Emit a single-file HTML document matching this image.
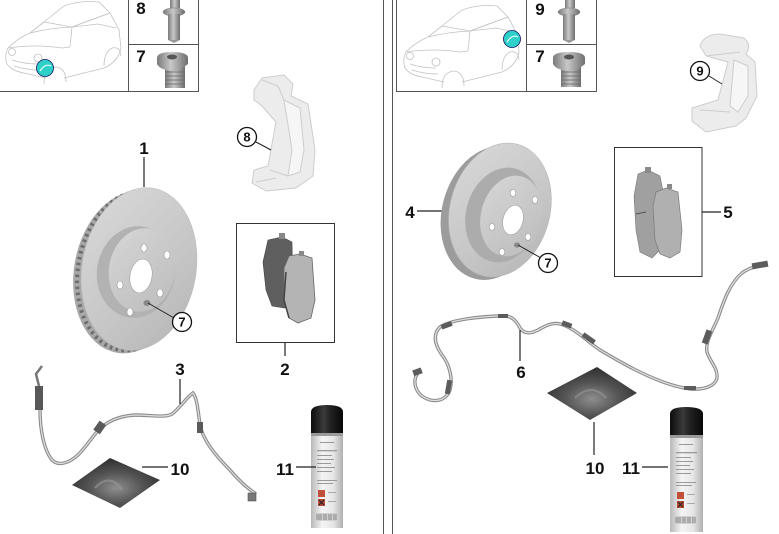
<!DOCTYPE html>
<html>
<head>
<meta charset="utf-8">
<style>
html,body{margin:0;padding:0;background:#fff;}
svg{display:block;}
text{font-family:"Liberation Sans",Arial,sans-serif;font-weight:bold;fill:#111;}
</style>
</head>
<body>
<svg width="779" height="534" viewBox="0 0 779 534" xmlns="http://www.w3.org/2000/svg">
<defs>
  <linearGradient id="face1" x1="0" y1="0" x2="1" y2="1">
    <stop offset="0" stop-color="#d9d9d9"/>
    <stop offset="0.6" stop-color="#c6c6c6"/>
    <stop offset="1" stop-color="#b4b4b4"/>
  </linearGradient>
  <linearGradient id="hub1" x1="0" y1="0" x2="1" y2="1">
    <stop offset="0" stop-color="#d6d6d6"/>
    <stop offset="1" stop-color="#bcbcbc"/>
  </linearGradient>
  <linearGradient id="canbody" x1="0" y1="0" x2="1" y2="0">
    <stop offset="0" stop-color="#b8b8b8"/>
    <stop offset="0.35" stop-color="#f4f4f4"/>
    <stop offset="0.7" stop-color="#e6e6e6"/>
    <stop offset="1" stop-color="#b0b0b0"/>
  </linearGradient>
  <linearGradient id="cancap" x1="0" y1="0" x2="1" y2="0">
    <stop offset="0" stop-color="#0c0c0c"/>
    <stop offset="0.4" stop-color="#3a3a3a"/>
    <stop offset="0.6" stop-color="#222"/>
    <stop offset="1" stop-color="#080808"/>
  </linearGradient>
  <radialGradient id="sachet" cx="0.5" cy="0.6" r="0.6">
    <stop offset="0" stop-color="#8e8e8e"/>
    <stop offset="0.5" stop-color="#555"/>
    <stop offset="1" stop-color="#2e2e2e"/>
  </radialGradient>
  <linearGradient id="bolt" x1="0" y1="0" x2="1" y2="0">
    <stop offset="0" stop-color="#7a7a7a"/>
    <stop offset="0.45" stop-color="#c8c8c8"/>
    <stop offset="1" stop-color="#6e6e6e"/>
  </linearGradient>
  <g id="car" fill="none" stroke="#c2c2c2" stroke-width="0.8">
    <path d="M44,22 L64,6 Q80,0 99,2 L110,13 L72,27 Z"/>
    <path d="M30,33 L44,22 M72,27 L88,21 L110,13 L119,30 L121,48 Q118,62 104,68 L64,78"/>
    <path d="M30,33 Q50,28 72,27 L70,47 M72,27 L98,24 L116,28"/>
    <path d="M8,48 Q18,38 30,33 M8,48 Q4,56 7,64 Q12,71 24,73 L46,78"/>
    <path d="M8,48 Q35,44 62,48 L70,47"/>
    <path d="M12,60 Q24,64 38,64 M14,66 Q26,70 40,70"/>
    <circle cx="12" cy="52" r="3.5"/>
    <circle cx="38" cy="58" r="4"/>
    <path d="M44,84 Q44,68 56,67 Q66,68 66,82"/>
    <path d="M104,66 Q104,52 112,48 Q120,46 121,56"/>
  </g>
</defs>
<rect width="779" height="534" fill="#fff"/>

<!-- panel borders -->
<line x1="383.5" y1="0" x2="383.5" y2="534" stroke="#555" stroke-width="1"/>
<line x1="392.5" y1="0" x2="392.5" y2="534" stroke="#555" stroke-width="1"/>

<!-- LEFT INSET -->
<use href="#car"/>
<circle cx="45" cy="68" r="8.5" fill="#2fd0c8" stroke="#116" stroke-width="0.8"/>
<path d="M40,71 Q45,63 51,66" stroke="#e8fffd" stroke-width="1.2" fill="none"/>
<path d="M0,91.5 H198.5 V0" fill="none" stroke="#555" stroke-width="1"/>
<line x1="128.5" y1="0" x2="128.5" y2="91.5" stroke="#555"/>
<line x1="128.5" y1="44.5" x2="198.5" y2="44.5" stroke="#555"/>
<text x="141" y="14" font-size="17" text-anchor="middle">8</text>
<text x="141" y="62" font-size="17" text-anchor="middle">7</text>
<!-- bolt 8 -->
<rect x="170" y="0" width="10" height="8" fill="url(#bolt)"/>
<ellipse cx="174" cy="12" rx="11" ry="4" fill="url(#bolt)" stroke="#777" stroke-width="0.5"/>
<rect x="168" y="14" width="12" height="26" fill="url(#bolt)"/>
<path d="M168,40 L174,43 L180,40" fill="#999"/>
<!-- bolt 7 -->
<rect x="165" y="66" width="20" height="22" fill="url(#bolt)"/>
<path d="M165,72 H185 M165,76 H185 M165,80 H185 M165,84 H185" stroke="#666" stroke-width="0.8"/>
<path d="M157,58 Q157,52 172,52 Q188,52 188,58 L188,64 Q180,71 172,71 Q160,70 157,64 Z" fill="url(#bolt)"/>
<ellipse cx="172" cy="57" rx="5" ry="2.5" fill="#555"/>

<!-- RIGHT INSET -->
<g transform="translate(398,4)"><use href="#car"/></g>
<circle cx="512" cy="39" r="8.5" fill="#2fd0c8" stroke="#116" stroke-width="0.8"/>
<path d="M507,42 Q512,34 518,37" stroke="#e8fffd" stroke-width="1.2" fill="none"/>
<rect x="396.5" y="-1" width="200" height="92.5" fill="none" stroke="#555"/>
<line x1="526.5" y1="0" x2="526.5" y2="91.5" stroke="#555"/>
<line x1="526.5" y1="44.5" x2="596.5" y2="44.5" stroke="#555"/>
<text x="540" y="15" font-size="17" text-anchor="middle">9</text>
<text x="540" y="62" font-size="17" text-anchor="middle">7</text>
<rect x="565" y="0" width="10" height="8" fill="url(#bolt)"/>
<ellipse cx="569" cy="12" rx="11" ry="4" fill="url(#bolt)" stroke="#777" stroke-width="0.5"/>
<rect x="563" y="14" width="12" height="26" fill="url(#bolt)"/>
<path d="M563,40 L569,43 L575,40" fill="#999"/>
<rect x="561" y="66" width="20" height="21" fill="url(#bolt)"/>
<path d="M561,72 H581 M561,76 H581 M561,80 H581 M561,84 H581" stroke="#666" stroke-width="0.8"/>
<path d="M553,58 Q553,52 569,52 Q585,52 585,58 L585,64 Q577,71 569,71 Q556,70 553,64 Z" fill="url(#bolt)"/>
<ellipse cx="569" cy="57" rx="5" ry="2.5" fill="#555"/>

<!-- CALIPER 8 -->
<g fill="#ececec" stroke="#cdcdcd" stroke-width="1">
  <path d="M254,90 L262,78 L284,75 L293,84 L291,96 L308,104 L315,150 L313,176 L296,188 L266,191 L252,183 L254,170 L268,166 L276,122 L262,106 L254,100 Z"/>
  <path d="M284,100 L300,108 L304,150 L300,172 L288,176 L292,150 Z" fill="#f6f6f6"/>
  <path d="M262,80 L278,86 L284,100 M270,170 L288,176 M256,182 L276,178" fill="none"/>
</g>
<circle cx="247" cy="137" r="9.5" fill="#fff" stroke="#111" stroke-width="1.3"/>
<text x="247" y="141.5" font-size="13" text-anchor="middle">8</text>
<line x1="256" y1="142" x2="271" y2="150" stroke="#222" stroke-width="1"/>

<!-- CALIPER 9 -->
<g fill="#ececec" stroke="#cdcdcd" stroke-width="1">
  <path d="M700,46 Q704,34 720,34 L744,38 Q752,45 746,54 L755,62 L757,96 L746,118 L736,126 L706,132 L692,121 L692,108 L718,100 L728,62 L706,56 Z"/>
  <path d="M734,60 L748,66 L748,96 L738,112 L730,106 Z" fill="#f6f6f6"/>
  <path d="M706,56 L740,52 M700,110 L730,112" fill="none"/>
</g>
<circle cx="700" cy="71" r="9.5" fill="#fff" stroke="#111" stroke-width="1.3"/>
<text x="700" y="75.5" font-size="13" text-anchor="middle">9</text>
<line x1="709" y1="76" x2="722" y2="84" stroke="#222" stroke-width="1"/>

<!-- DISC 1 -->
<text x="144" y="154" font-size="17" text-anchor="middle">1</text>
<line x1="144" y1="157" x2="144" y2="187" stroke="#222" stroke-width="1.2"/>
<ellipse cx="131" cy="272" rx="57" ry="82" transform="rotate(10 131 272)" fill="#a8a8a8"/>
<ellipse cx="133" cy="271" rx="55" ry="80" transform="rotate(10 133 271)" fill="none" stroke="#6c6c6c" stroke-width="4" stroke-dasharray="2.5 3.5"/>
<ellipse cx="139" cy="269" rx="57" ry="82" transform="rotate(10 139 269)" fill="url(#face1)" stroke="#bdbdbd" stroke-width="0.6"/>
<ellipse cx="136" cy="272" rx="39" ry="46" transform="rotate(10 136 272)" fill="#b2b2b2"/>
<ellipse cx="142" cy="270" rx="33" ry="42" transform="rotate(10 142 270)" fill="url(#hub1)"/>
<ellipse cx="141" cy="276" rx="11" ry="17" transform="rotate(10 141 276)" fill="#fff" stroke="#a0a0a0" stroke-width="0.6"/>
<g fill="#fff" stroke="#999" stroke-width="0.6">
  <ellipse cx="144" cy="248" rx="3" ry="4"/>
  <ellipse cx="167" cy="255" rx="3" ry="4"/>
  <ellipse cx="120" cy="285" rx="3" ry="4"/>
  <ellipse cx="160" cy="293" rx="3" ry="4"/>
  <ellipse cx="130" cy="312" rx="3" ry="4"/>
</g>
<ellipse cx="147" cy="303" rx="3.5" ry="3" fill="#888"/>
<line x1="148" y1="303" x2="174" y2="318" stroke="#222" stroke-width="1"/>
<circle cx="182" cy="322" r="9.5" fill="#fff" stroke="#111" stroke-width="1.3"/>
<text x="182" y="326.5" font-size="13" text-anchor="middle">7</text>

<!-- PAD BOX 2 -->
<rect x="236.5" y="223.5" width="98" height="119" fill="none" stroke="#333" stroke-width="1"/>
<line x1="285" y1="343" x2="285" y2="356" stroke="#222" stroke-width="1.2"/>
<text x="285" y="375" font-size="17" text-anchor="middle">2</text>
<path d="M268,240 L282,237 L292,242 L293,300 L285,308 L272,306 L266,290 L263,262 Z" fill="#5f5f5f" stroke="#444" stroke-width="0.6"/>
<rect x="279" y="233" width="6" height="6" fill="#888"/>
<path d="M289,256 L300,254 L312,258 L315,300 L311,318 L298,323 L289,318 L284,300 L284,268 Z" fill="#b4b4b4" stroke="#666" stroke-width="0.8"/>
<path d="M286,272 L284,300 L289,318" fill="none" stroke="#444" stroke-width="1.5"/>
<rect x="299" y="251" width="5" height="5" fill="#888"/>

<!-- WIRE 3 -->
<path d="M42,366 L36,374 L39,386" fill="none" stroke="#777" stroke-width="2.5"/>
<rect x="35" y="386" width="8" height="24" fill="#585858"/>
<path d="M40,410 C40,430 44,450 52,460 C58,466 68,464 78,455 C88,445 95,432 102,427 C110,420 120,416 135,415 C150,415 165,418 172,414 C180,408 186,398 193,393 C197,398 198,410 200,425 C203,440 215,455 230,470 C240,482 250,490 256,494" fill="none" stroke="#8a8a8a" stroke-width="3.4"/>
<path d="M40,410 C40,430 44,450 52,460 C58,466 68,464 78,455 C88,445 95,432 102,427 C110,420 120,416 135,415 C150,415 165,418 172,414 C180,408 186,398 193,393 C197,398 198,410 200,425 C203,440 215,455 230,470 C240,482 250,490 256,494" fill="none" stroke="#dcdcdc" stroke-width="1.3"/>
<rect x="96" y="422" width="8" height="11" fill="#5a5a5a" transform="rotate(35 100 427)"/>
<rect x="197" y="422" width="6" height="11" fill="#5a5a5a"/>
<rect x="248" y="493" width="8" height="8" fill="#777" stroke="#555" stroke-width="0.6"/>
<text x="180" y="375" font-size="17" text-anchor="middle">3</text>
<line x1="180" y1="379" x2="180" y2="404" stroke="#222" stroke-width="1.2"/>

<!-- SACHET 10 left -->
<path d="M72,485 L110,458 L160,480 L120,508 Z" fill="url(#sachet)"/>
<path d="M95,488 Q110,472 122,490" fill="none" stroke="#9a9a9a" stroke-width="2" opacity="0.6"/>
<line x1="142" y1="467" x2="168" y2="467" stroke="#222" stroke-width="1.2"/>
<text x="180" y="475" font-size="17" text-anchor="middle">10</text>

<!-- CAN 11 left -->
<rect x="311" y="430" width="32" height="98" fill="url(#canbody)"/>
<path d="M311,433 L311,412 Q311,405 327,405 Q343,405 343,412 L343,433 Z" fill="url(#cancap)"/>
<rect x="311" y="433" width="32" height="3" fill="#9a9a9a"/>
<g fill="#9a9a9a">
  <rect x="320" y="442" width="14" height="1"/>
  <rect x="317" y="450" width="20" height="1.3"/>
  <rect x="317" y="455" width="15" height="1"/>
  <rect x="317" y="459" width="17" height="1"/>
  <rect x="317" y="463" width="14" height="1"/>
  <rect x="317" y="467" width="18" height="1"/>
  <rect x="317" y="471" width="15" height="1"/>
  <rect x="317" y="480" width="20" height="1"/>
  <rect x="317" y="483" width="16" height="1"/>
</g>
<rect x="318" y="490" width="7" height="7" fill="#c0503a"/>
<rect x="318" y="499" width="7" height="7" fill="#b84a36"/>
<path d="M319,500 L324,505 M324,500 L319,505" stroke="#222" stroke-width="1"/>
<rect x="328" y="492" width="8" height="1" fill="#aaa"/>
<rect x="328" y="501" width="8" height="1" fill="#aaa"/>
<rect x="316" y="513" width="22" height="8" fill="#d0d0d0"/>
<path d="M317,514 V520 M319,514 V520 M321,514 V520 M324,514 V520 M326,514 V520 M329,514 V520 M331,514 V520 M334,514 V520 M336,514 V520" stroke="#777" stroke-width="0.8"/>
<line x1="296" y1="467" x2="316" y2="467" stroke="#222" stroke-width="1.2"/>
<text x="285" y="475" font-size="17" text-anchor="middle">11</text>

<!-- DISC 4 -->
<text x="410" y="218" font-size="17" text-anchor="middle">4</text>
<line x1="417" y1="211" x2="443" y2="211" stroke="#222" stroke-width="1.2"/>
<ellipse cx="492" cy="213" rx="50" ry="68" transform="rotate(15 492 213)" fill="#9c9c9c"/>
<ellipse cx="500" cy="210" rx="50" ry="68" transform="rotate(15 500 210)" fill="url(#face1)" stroke="#b8b8b8" stroke-width="0.6"/>
<ellipse cx="503" cy="215" rx="37" ry="48" transform="rotate(15 503 215)" fill="#acacac"/>
<ellipse cx="511" cy="216" rx="30" ry="41" transform="rotate(15 511 216)" fill="url(#hub1)"/>
<ellipse cx="513" cy="220" rx="10" ry="15" transform="rotate(15 513 220)" fill="#fff" stroke="#a0a0a0" stroke-width="0.6"/>
<g fill="#fff" stroke="#999" stroke-width="0.6">
  <ellipse cx="513" cy="193" rx="2.8" ry="3.5"/>
  <ellipse cx="535" cy="200" rx="2.8" ry="3.5"/>
  <ellipse cx="492" cy="227" rx="2.8" ry="3.5"/>
  <ellipse cx="528" cy="237" rx="2.8" ry="3.5"/>
  <ellipse cx="502" cy="252" rx="2.8" ry="3.5"/>
</g>
<ellipse cx="517" cy="245" rx="3" ry="2.6" fill="#888"/>
<line x1="518" y1="245" x2="541" y2="258" stroke="#222" stroke-width="1"/>
<circle cx="548" cy="263" r="9.5" fill="#fff" stroke="#111" stroke-width="1.3"/>
<text x="548" y="267.5" font-size="13" text-anchor="middle">7</text>

<!-- PAD BOX 5 -->
<rect x="614.5" y="147.5" width="87.5" height="129" fill="none" stroke="#333" stroke-width="1"/>
<line x1="702" y1="212" x2="721" y2="212" stroke="#222" stroke-width="1.2"/>
<text x="728" y="218" font-size="17" text-anchor="middle">5</text>
<path d="M638,174 L648,170 L660,176 L664,196 L660,250 L652,258 L640,252 L636,230 L634,196 Z" fill="#a0a0a0" stroke="#777" stroke-width="0.6"/>
<rect x="645" y="167" width="6" height="6" fill="#8a8a8a"/>
<path d="M636,214 L646,212" stroke="#555" stroke-width="1"/>
<path d="M656,192 L666,188 L678,192 L682,230 L680,252 L670,258 L660,254 L655,240 L653,206 Z" fill="#b0b0b0" stroke="#7a7a7a" stroke-width="0.7"/>
<rect x="667" y="184" width="5" height="5" fill="#8a8a8a"/>

<!-- WIRE 6 -->
<path d="M418,373 C412,380 414,395 430,400 C440,402 447,398 450,390 C453,380 450,365 442,355 C435,345 432,335 440,327 C450,320 480,316 505,316 C512,316 517,322 520,328 C524,334 530,334 538,330 C545,326 552,322 560,324 C575,328 585,340 600,350 C625,365 660,385 690,389 C705,390 715,386 717,378 C718,368 710,362 707,352 C705,342 712,332 718,318 C724,300 730,283 742,273 C750,267 758,266 764,265" fill="none" stroke="#8a8a8a" stroke-width="3.4"/>
<path d="M418,373 C412,380 414,395 430,400 C440,402 447,398 450,390 C453,380 450,365 442,355 C435,345 432,335 440,327 C450,320 480,316 505,316 C512,316 517,322 520,328 C524,334 530,334 538,330 C545,326 552,322 560,324 C575,328 585,340 600,350 C625,365 660,385 690,389 C705,390 715,386 717,378 C718,368 710,362 707,352 C705,342 712,332 718,318 C724,300 730,283 742,273 C750,267 758,266 764,265" fill="none" stroke="#dedede" stroke-width="1.3"/>
<g fill="#5c5c5c">
  <rect x="441" y="323" width="11" height="5" transform="rotate(-20 446 325)"/>
  <rect x="498" y="314" width="10" height="4"/>
  <rect x="562" y="322" width="10" height="5" transform="rotate(20 567 324)"/>
  <rect x="582" y="336" width="14" height="5" transform="rotate(35 589 338)"/>
  <rect x="446" y="380" width="5" height="14" transform="rotate(10 448 387)"/>
  <rect x="684" y="386" width="12" height="4"/>
  <rect x="704" y="330" width="6" height="14" transform="rotate(20 707 337)"/>
  <rect x="752" y="262" width="16" height="6" transform="rotate(-10 760 265)"/>
  <rect x="413" y="369" width="9" height="6" transform="rotate(-20 417 372)"/>
</g>
<line x1="520" y1="330" x2="520" y2="361" stroke="#222" stroke-width="1.2"/>
<text x="521" y="378" font-size="17" text-anchor="middle">6</text>

<!-- SACHET 10 right -->
<path d="M547,393 L597,367 L637,393 L590,420 Z" fill="url(#sachet)"/>
<path d="M575,398 Q592,382 606,398" fill="none" stroke="#9a9a9a" stroke-width="2" opacity="0.6"/>
<line x1="594" y1="422" x2="594" y2="455" stroke="#222" stroke-width="1.2"/>
<text x="595" y="474" font-size="17" text-anchor="middle">10</text>

<!-- CAN 11 right -->
<rect x="670" y="432" width="33" height="100" fill="url(#canbody)"/>
<path d="M670,435 L670,414 Q670,407 686,407 Q703,407 703,414 L703,435 Z" fill="url(#cancap)"/>
<rect x="670" y="435" width="33" height="3" fill="#9a9a9a"/>
<g fill="#9a9a9a">
  <rect x="679" y="444" width="14" height="1"/>
  <rect x="676" y="452" width="21" height="1.3"/>
  <rect x="676" y="457" width="15" height="1"/>
  <rect x="676" y="461" width="17" height="1"/>
  <rect x="676" y="465" width="14" height="1"/>
  <rect x="676" y="469" width="18" height="1"/>
  <rect x="676" y="473" width="15" height="1"/>
  <rect x="676" y="482" width="20" height="1"/>
  <rect x="676" y="485" width="16" height="1"/>
</g>
<rect x="677" y="492" width="7" height="7" fill="#c0503a"/>
<rect x="677" y="501" width="7" height="7" fill="#b84a36"/>
<path d="M678,502 L683,507 M683,502 L678,507" stroke="#222" stroke-width="1"/>
<rect x="687" y="494" width="8" height="1" fill="#aaa"/>
<rect x="687" y="503" width="8" height="1" fill="#aaa"/>
<rect x="675" y="516" width="23" height="8" fill="#d0d0d0"/>
<path d="M676,517 V523 M678,517 V523 M680,517 V523 M683,517 V523 M685,517 V523 M688,517 V523 M690,517 V523 M693,517 V523 M695,517 V523" stroke="#777" stroke-width="0.8"/>
<line x1="642" y1="467" x2="668" y2="467" stroke="#222" stroke-width="1.2"/>
<text x="631" y="474" font-size="17" text-anchor="middle">11</text>
</svg>
</body>
</html>
